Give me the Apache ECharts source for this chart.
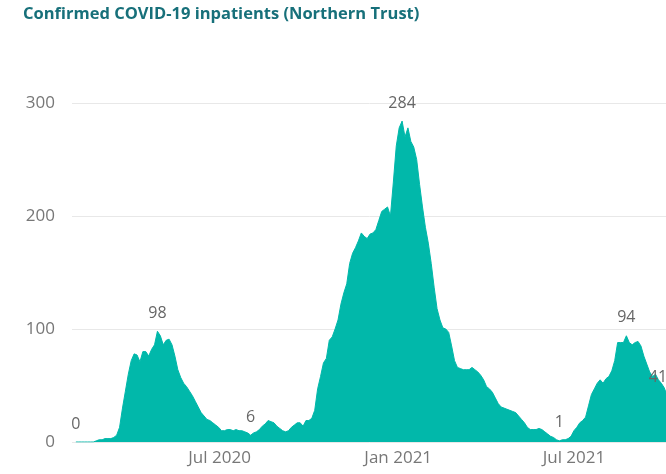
<!DOCTYPE html>
<html>
<head>
<meta charset="utf-8">
<script src="https://cdn.jsdelivr.net/npm/echarts@6/dist/echarts.min.js"></script>
<style>
html,body{margin:0;padding:0;background:#fff;}
#chart{width:666px;height:474px;}
</style>
</head>
<body>
<div id="chart"></div>
<script>
// Confirmed COVID-19 inpatients, one value every 3 days starting 4 Feb 2020
const startDate = [2020, 1, 4];
const stepDays = 3;
const inpatients = [
  0,0,0,0,0,0,0,1,2,2, 3,3,3,4,6,13,30,45,60,72,
  78,77,71,80,80,76,82,86,98,94, 86,90,91,86,76,64,57,52,49,45,
  41,36,31,26,23,20,19,17,15,13, 10,10,11,11,10,11,10,10,9,8,
  6,8,9,11,14,16,19,18,17,14, 12,10,9,10,13,15,17,17,14,19,
  19,21,28,47,58,70,74,90,93,100, 108,122,132,140,158,167,172,178,185,182,
  180,184,185,188,196,204,206,208,200,230, 262,278,284,270,278,266,261,250,228,208,
  190,176,158,137,118,108,101,100,97,85, 72,66,65,64,64,64,66,64,62,59,
  55,49,47,44,39,34,31,30,29,28, 27,26,23,20,17,13,11,11,11,12,
  11,9,7,5,4,2,1,2,2,3, 5,10,13,17,19,22,32,42,47,52,
  55,52,56,58,63,72,88,88,88,94, 88,86,88,89,85,76,69,62,58,60,
  55,52,48,41
];
// indices of the points that carry a value label
const labelIndex = [0, 28, 60, 112, 166, 189, 203];

const yTicks = [0, 100, 200, 300];
const xTickDates = [[2020, 6, 1], [2021, 0, 1], [2021, 6, 1]];
const xTickLabels = ['Jul 2020', 'Jan 2021', 'Jul 2021'];
const axisRange = [[2020, 0, 31], [2021, 9, 10]];

const DAY = 86400000;
const ts = d => Date.UTC(d[0], d[1], d[2]);
const t0 = ts(startDate);
const tickTs = xTickDates.map(ts);

const seriesData = inpatients.map((v, i) => {
  const item = { value: [t0 + i * stepDays * DAY, v] };
  if (labelIndex.indexOf(i) >= 0) {
    item.label = { show: true };
    if (i === inpatients.length - 1) item.label.align = 'right';
  }
  return item;
});

const chart = echarts.init(document.getElementById('chart'), null, { renderer: 'canvas' });
const FONT = '"Open Sans", "Noto Sans", sans-serif';
chart.setOption({
  animation: false,
  backgroundColor: '#ffffff',
  title: {
    text: 'Confirmed COVID-19 inpatients (Northern Trust)',
    left: 18, top: 1,
    textStyle: { fontFamily: FONT, fontWeight: 'bold', fontSize: 16.5, color: '#17707A' }
  },
  grid: { left: 72, top: 103, width: 600, bottom: 32, containLabel: false, outerBoundsMode: 'none' },
  xAxis: {
    type: 'value',
    min: ts(axisRange[0]),
    max: ts(axisRange[1]),
    axisLine: { show: false },
    axisTick: { show: false },
    splitLine: { show: false },
    axisLabel: {
      customValues: tickTs,
      formatter: v => {
        const k = tickTs.indexOf(v);
        return k >= 0 ? xTickLabels[k] : '';
      },
      color: '#777777', fontFamily: FONT, fontSize: 17, margin: 8, hideOverlap: false
    }
  },
  yAxis: {
    type: 'value',
    min: yTicks[0], max: yTicks[yTicks.length - 1], interval: 100,
    axisLine: { show: false },
    axisTick: { show: false },
    splitLine: { lineStyle: { color: '#e8e8e8', width: 1 } },
    axisLabel: { color: '#777777', fontFamily: FONT, fontSize: 17, margin: 17 }
  },
  series: [{
    type: 'line',
    data: seriesData,
    showSymbol: true,
    symbol: 'circle',
    symbolSize: 0,
    smooth: false,
    lineStyle: { width: 1, color: '#01B8AA' },
    itemStyle: { color: '#01B8AA' },
    areaStyle: { color: '#01B8AA', opacity: 1 },
    label: {
      show: false, position: 'top', distance: 10,
      color: '#666666', fontFamily: FONT, fontSize: 16
    },
    labelLayout: { hideOverlap: false },
    z: 2
  }]
});
</script>
</body>
</html>
